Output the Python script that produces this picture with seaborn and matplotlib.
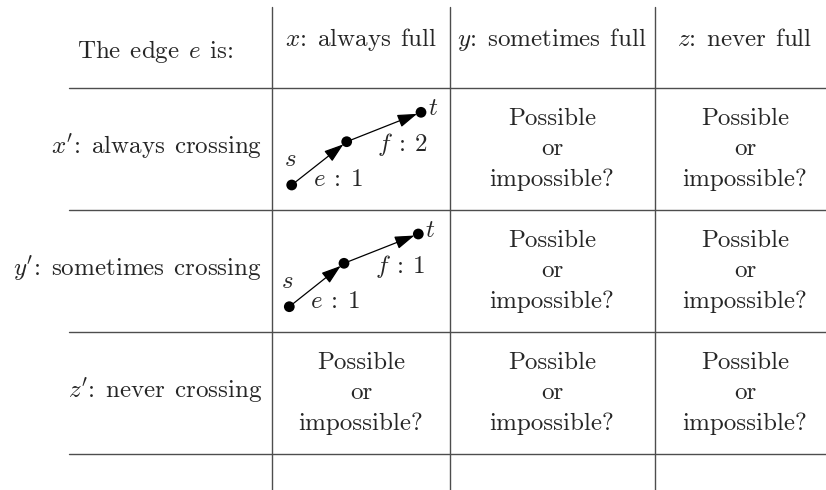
import matplotlib
matplotlib.use("Agg")
import matplotlib.pyplot as plt
import seaborn as sns
import pandas as pd

# table contents
corner_label = "The edge $e$ is:"
col_labels = ["$x$: always full", "$y$: sometimes full", "$z$: never full"]
row_labels = ["$x'$: always crossing", "$y'$: sometimes crossing", "$z'$: never crossing"]
cell_lines = ["Possible", "or", "impossible?"]

# grid (pixel units of the 826x490 canvas)
col_edges = [272, 450, 655]
row_edges = [88, 210, 332, 454]
col_centers = [361, 552, 745]
row_centers = [149, 271, 393]

# the two small flow examples: s -> m -> t
graph_x = [[291.7, 346.7, 421.0], [289.3, 344.0, 418.3]]
graph_y = [[185.0, 141.7, 112.3], [306.7, 263.3, 234.0]]
cap_e = [r"$e\::\:1$", r"$e\::\:1$"]
cap_f = [r"$f\::\:2$", r"$f\::\:1$"]


def tex_spaces(s):
    # cmr10 has an (almost) empty space glyph, so use math spaces instead
    s = s.replace(": ", ":\x00").replace(" ", "\x01")
    return s.replace("\x00", r"$\hspace{0.5}$").replace("\x01", r"$\hspace{0.45}$")


def draw_table():
    sns.set_theme(style="white")
    plt.rcParams["font.family"] = ["cmr10", "DejaVu Serif"]
    plt.rcParams["mathtext.fontset"] = "cm"
    plt.rcParams["axes.formatter.use_mathtext"] = True

    fig = plt.figure(figsize=(8.26, 4.9), dpi=100)
    ax = fig.add_axes([0, 0, 1, 1])

    fs = 18
    line_kw = dict(color="0.3", lw=1.0)

    for x in col_edges:
        ax.plot([x, x], [7, 490], **line_kw)
    for y in row_edges:
        ax.plot([69, 826], [y, y], **line_kw)

    # header row
    ax.text(155, 58, tex_spaces(corner_label), ha="center", va="baseline", fontsize=fs)
    for cx, lab in zip(col_centers, col_labels):
        ax.text(cx, 46, tex_spaces(lab), ha="center", va="baseline", fontsize=fs)

    # row labels
    for cy, lab in zip(row_centers, row_labels):
        ax.text(262, cy - 2, tex_spaces(lab), ha="right", va="center", fontsize=fs)

    # question cells, one text per line
    offsets = [-24, 6, 36.5]
    for r, cy in enumerate(row_centers):
        for c, cx in enumerate(col_centers):
            if c == 0 and r < 2:
                continue
            for dy, line in zip(offsets, cell_lines):
                ax.text(cx, cy + dy, line, ha="center", va="baseline", fontsize=fs)

    # flow examples
    for i in range(2):
        xs, ys = graph_x[i], graph_y[i]
        for j in range(2):
            ax.annotate(
                "",
                xy=(xs[j + 1], ys[j + 1]),
                xytext=(xs[j], ys[j]),
                arrowprops=dict(
                    arrowstyle="-|>,head_length=0.6,head_width=0.2",
                    mutation_scale=20,
                    color="black",
                    lw=0.9,
                    shrinkA=0,
                    shrinkB=3,
                ),
            )
        nodes = pd.DataFrame({"x": xs, "y": ys})
        sns.scatterplot(data=nodes, x="x", y="y", ax=ax, s=60,
                        color="black", edgecolor="none", zorder=5)
        ax.text(xs[0] - 2, ys[0] - 25, "$s$", ha="center", va="center", fontsize=fs)
        ax.text(xs[0] + 46, ys[0] - 5, cap_e[i], ha="center", va="center", fontsize=fs)
        ax.text(xs[1] + 56, ys[1] + 3, cap_f[i], ha="center", va="center", fontsize=fs)
        ax.text(xs[2] + 12, ys[2] - 3, "$t$", ha="center", va="center", fontsize=fs)

    ax.set_xlim(0, 826)
    ax.set_ylim(490, 0)
    ax.axis("off")
    fig.savefig("out.png", dpi=100)
    plt.close(fig)


def main():
    draw_table()


if __name__ == "__main__":
    main()
